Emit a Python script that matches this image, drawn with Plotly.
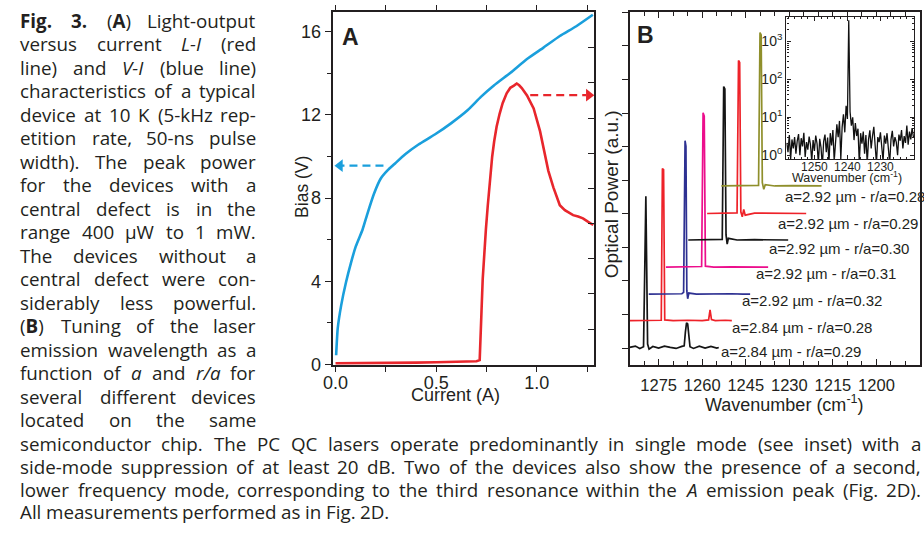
import re
import plotly.graph_objects as go

# ---------------- Panel A data ----------------
vi_current = [0.003, 0.011, 0.028, 0.052, 0.077, 0.101, 0.134, 0.159, 0.191, 0.224, 0.257, 0.297,
              0.346, 0.412, 0.493, 0.575, 0.657, 0.722, 0.788, 0.869, 0.951, 1.033, 1.114, 1.196, 1.278]
vi_bias = [0.44, 1.74, 2.84, 3.95, 4.9, 5.69, 6.48, 7.27, 8.21, 8.93, 9.32, 9.68,
           10.11, 10.58, 11.06, 11.61, 12.24, 12.87, 13.43, 14.03, 14.69, 15.24, 15.8, 16.27, 16.82]

li_current = [0.0, 0.1, 0.2, 0.3, 0.4, 0.5, 0.6, 0.7, 0.716, 0.72, 0.725, 0.731, 0.738, 0.747,
              0.756, 0.766, 0.778, 0.788, 0.80, 0.815, 0.83, 0.85, 0.868, 0.886, 0.9, 0.912, 0.925,
              0.951, 0.984, 1.016, 1.041, 1.057, 1.082, 1.114, 1.139, 1.16, 1.18, 1.205, 1.229, 1.255, 1.28]
li_power = [0.03, 0.03, 0.04, 0.04, 0.05, 0.06, 0.07, 0.09, 0.12, 0.6, 1.5, 2.42, 3.2, 3.85,
            4.5, 5.2, 5.9, 6.34, 6.75, 7.12, 7.42, 7.7, 7.86, 7.92, 7.98, 7.93, 7.85,
            7.64, 7.27, 6.62, 5.96, 5.5, 5.03, 4.52, 4.38, 4.32, 4.24, 4.2, 4.15, 4.05, 3.96]

bias_ticks = [0, 4, 8, 12, 16]
current_ticks = [0.0, 0.5, 1.0]
current_tick_text = ["0.0", "0.5", "1.0"]

# ---------------- Panel B data ----------------
spec_labels = ["a=2.84 µm - r/a=0.29", "a=2.84 µm - r/a=0.28", "a=2.92 µm - r/a=0.32",
               "a=2.92 µm - r/a=0.31", "a=2.92 µm - r/a=0.30", "a=2.92 µm - r/a=0.29",
               "a=2.92 µm - r/a=0.28"]
spec_offsets = [0.02, 0.82, 1.61, 2.41, 3.22, 4.01, 4.83]
spec_wn = [
    [1285, 1283, 1281.5, 1280.2, 1279.8, 1279.4, 1279.1, 1278.8, 1278.3, 1277, 1275, 1273, 1271,
     1269, 1267, 1266.2, 1265.8, 1265.4, 1265.0, 1264.6, 1264.2, 1263, 1261, 1259, 1257, 1255, 1254.3],
    [1285, 1280, 1276, 1274.1, 1273.7, 1273.3, 1272.9, 1270, 1265, 1260, 1257.8, 1257.3, 1256.8,
     1255.5, 1252, 1249.8],
    [1278.4, 1274, 1270, 1267, 1266.4, 1266.1, 1265.9, 1265.6, 1265.3, 1265.0, 1264.6, 1262, 1258,
     1254, 1250, 1246, 1243.5],
    [1272.5, 1268, 1263, 1260.2, 1259.7, 1259.3, 1258.9, 1256, 1250, 1244, 1237.3],
    [1264.8, 1260, 1256, 1253.1, 1252.6, 1252.2, 1251.8, 1251.4, 1251.0, 1248, 1242, 1236, 1230.4],
    [1258.3, 1254, 1250, 1248.0, 1247.5, 1247.1, 1246.7, 1246.2, 1245.7, 1245.2, 1242, 1236, 1230,
     1224.2],
    [1253.4, 1249, 1245, 1240.6, 1240.1, 1239.7, 1239.3, 1238.8, 1238.3, 1235, 1229, 1223, 1218.9],
]
spec_int = [
    [0, 0.04, -0.03, 0.02, 2.2, 4.5, 2.3, 0.1, -0.05, 0.03, -0.02, 0.04, 0.0,
     -0.03, 0.03, 0.05, 0.45, 0.73, 0.7, 0.3, 0.02, -0.03, 0.04, -0.02, 0.03, -0.02, 0.0],
    [0, 0.01, 0, 0.01, 4.53, 4.5, 0.02, 0, 0.01, 0, 0.02, 0.32, 0.03, 0, 0.01, 0],
    [0, 0.01, 0, 0.01, 0.05, 2.56, 4.57, 4.4, 0.1, -0.14, 0.03, 0, 0.01, 0, 0.01, 0, 0],
    [0, 0.01, 0, 0.02, 4.6, 4.5, 0.03, 0, 0.01, 0, 0],
    [0, 0.01, 0, 0.02, 4.57, 4.5, 0.15, -0.12, 0.05, 0, 0.01, 0, 0],
    [0, 0.01, 0, 0.02, 4.56, 4.5, 0.05, -0.1, 0.12, -0.05, 0.01, 0, 0.01, 0],
    [0, 0.01, 0, 0.02, 4.57, 4.5, 0.1, -0.1, 0.04, 0, 0.01, 0, 0],
]
wn_ticks = [1275, 1260, 1245, 1230, 1215, 1200]

# inset spectrum (device a=2.92 um, r/a=0.28), log scale
inset_wn = [1258.4, 1258.0, 1257.6, 1257.2, 1256.8, 1256.4, 1256.0, 1255.6, 1255.2, 1254.8,
            1254.4, 1254.0, 1253.6, 1253.2, 1252.8, 1252.4, 1252.0, 1251.6, 1251.2, 1250.8,
            1250.4, 1250.0, 1249.6, 1249.2, 1248.8, 1248.4, 1248.0, 1247.6, 1247.2, 1246.8,
            1246.4, 1246.0, 1245.6, 1245.2, 1244.8, 1244.4, 1244.0, 1243.6, 1243.2, 1242.8,
            1242.4, 1242.0, 1241.6, 1241.2, 1240.8, 1240.4, 1240.0, 1239.6, 1239.2, 1238.8,
            1238.4, 1238.0, 1237.6, 1237.2, 1236.8, 1236.4, 1236.0, 1235.6, 1235.2, 1234.8,
            1234.4, 1234.0, 1233.6, 1233.2, 1232.8, 1232.4, 1232.0, 1231.6, 1231.2, 1230.8,
            1230.4, 1230.0, 1229.6, 1229.2, 1228.8, 1228.4, 1228.0, 1227.6, 1227.2, 1226.8,
            1226.4, 1226.0, 1225.6, 1225.2, 1224.8, 1224.4, 1224.0, 1223.6, 1223.2, 1222.8,
            1222.4, 1222.0, 1221.6, 1221.2, 1220.8, 1220.4, 1220.0]
inset_int = [2.1, 1.2, 3.4, 0.8, 2.6, 1.5, 3.0, 1.1, 2.4, 3.6,
             1.0, 2.8, 1.7, 3.9, 0.9, 2.2, 1.4, 3.1, 1.9, 0.7,
             2.5, 1.3, 3.3, 2.0, 0.6, 2.7, 1.6, 0.5, 2.3, 3.5,
             1.2, 2.9, 0.6, 3.8, 1.8, 4.6, 0.7, 2.4, 6.5, 3.0,
             8.0, 0.8, 5.5, 12.0, 4.0, 20.0, 9.0, 3600.0, 14.0, 6.0,
             10.0, 2.5, 7.0, 3.2, 5.0, 0.6, 3.8, 2.0, 4.2, 1.1,
             3.4, 0.6, 2.6, 4.5, 1.5, 3.2, 5.6, 1.8, 0.6, 3.0,
             2.2, 4.0, 1.3, 0.7, 3.3, 2.0, 3.8, 1.2, 0.6, 2.6,
             4.4, 1.7, 3.0, 2.2, 1.0, 3.5, 2.4, 4.6, 1.5, 3.2,
             2.1, 6.0, 1.9, 4.2, 2.6, 5.2, 3.0]
inset_wn_ticks = [1250, 1240, 1230]
inset_log_ticks = [1, 10, 100, 1000]
inset_log_text = ["10<sup>0</sup>", "10<sup>1</sup>", "10<sup>2</sup>", "10<sup>3</sup>"]

# ---------------- caption text ----------------
caption_left = [
    "<b>Fig.</b> <b>3.</b> (<b>A</b>) Light-output",
    "versus current <i>L-I</i> (red",
    "line) and <i>V-I</i> (blue line)",
    "characteristics of a typical",
    "device at 10 K (5-kHz rep-",
    "etition rate, 50-ns pulse",
    "width). The peak power",
    "for the devices with a",
    "central defect is in the",
    "range 400 µW to 1 mW.",
    "The devices without a",
    "central defect were con-",
    "siderably less powerful.",
    "(<b>B</b>) Tuning of the laser",
    "emission wavelength as a",
    "function of <i>a</i> and <i>r/a</i> for",
    "several different devices",
    "located on the same",
]
caption_bottom = [
    "semiconductor chip. The PC QC lasers operate predominantly in single mode (see inset) with a",
    "side-mode suppression of at least 20 dB. Two of the devices also show the presence of a second,",
    "lower frequency mode, corresponding to the third resonance within the <i>A</i> emission peak (Fig. 2D).",
    "All measurements performed as in Fig. 2D.",
]

# ---------------- styles ----------------
W, H = 924, 533
INK = "#231f20"
BLUE = "#1a9fdc"
RED = "#e8262c"
spec_colors = ["#151515", "#ee2229", "#2e3192", "#ec0e8c", "#151515", "#ee2229", "#8f8f2b"]
AX_FONT = "Liberation Sans, Arial, sans-serif"
CAP_FONT = "Open Sans, Noto Sans, sans-serif"


def fx(p):
    return p / W


def fy(p):
    return 1 - p / H


fig = go.Figure()

# Panel A
fig.add_trace(go.Scatter(x=vi_current, y=vi_bias, mode="lines", xaxis="x", yaxis="y",
                         line=dict(color=BLUE, width=2.6, shape="spline", smoothing=0.5),
                         showlegend=False))
fig.add_trace(go.Scatter(x=li_current, y=li_power, mode="lines", xaxis="x", yaxis="y2",
                         line=dict(color=RED, width=2.6), showlegend=False))
# dashed arrows (shaft + head)
fig.add_trace(go.Scatter(x=[0.238, 0.03], y=[9.56, 9.56], mode="lines", xaxis="x", yaxis="y",
                         line=dict(color=BLUE, width=2.2, dash="8px,5px"), showlegend=False))
fig.add_trace(go.Scatter(x=[0.022], y=[9.56], mode="markers", xaxis="x", yaxis="y",
                         marker=dict(symbol="triangle-left", size=11, color=BLUE), showlegend=False,
                         cliponaxis=False))
fig.add_trace(go.Scatter(x=[0.967, 1.245], y=[7.65, 7.65], mode="lines", xaxis="x", yaxis="y2",
                         line=dict(color=RED, width=2.2, dash="8px,5px"), showlegend=False))
fig.add_trace(go.Scatter(x=[1.258], y=[7.65], mode="markers", xaxis="x", yaxis="y2",
                         marker=dict(symbol="triangle-right", size=11, color=RED), showlegend=False,
                         cliponaxis=False))

# Panel B
for i in range(len(spec_wn)):
    fig.add_trace(go.Scatter(x=spec_wn[i], y=[spec_offsets[i] + v for v in spec_int[i]],
                             mode="lines", xaxis="x3", yaxis="y3",
                             line=dict(color=spec_colors[i], width=1.7), showlegend=False))

# Inset
fig.add_trace(go.Scatter(x=inset_wn, y=inset_int, mode="lines", xaxis="x4", yaxis="y4",
                         line=dict(color="#111111", width=1.3), showlegend=False))

axline = dict(showline=True, linecolor=INK, linewidth=1.6, showgrid=False, zeroline=False,
              tickcolor=INK, tickwidth=1.4)

fig.update_layout(
    width=W, height=H, margin=dict(l=0, r=0, t=0, b=0),
    paper_bgcolor="white", plot_bgcolor="white", showlegend=False,
    xaxis=dict(domain=[fx(326.7), fx(591)], anchor="y", range=[-0.015, 1.285],
               tickmode="array", tickvals=current_ticks, ticktext=current_tick_text,
               ticks="outside", ticklen=5, mirror="allticks", tickangle=0, ticklabelstandoff=-5,
               minor=dict(tickvals=[0.25, 0.75, 1.25], ticks="outside", ticklen=5, tickcolor=INK),
               tickfont=dict(family=AX_FONT, size=18, color=INK), **axline),
    yaxis=dict(domain=[fy(371.5), fy(12.3)], anchor="x", range=[-0.04, 16.95],
               tickmode="array", tickvals=bias_ticks, ticks="outside", ticklen=6, mirror=True,
               minor=dict(tickvals=[2, 6, 10, 14], ticks="outside", ticklen=4, tickcolor=INK),
               tickfont=dict(family=AX_FONT, size=18, color=INK), **axline),
    yaxis2=dict(overlaying="y", side="right", anchor="x", range=[-0.025, 10.01],
                tickmode="linear", tick0=0, dtick=1, ticks="inside", ticklen=6,
                showticklabels=False, **axline),
    xaxis3=dict(domain=[fx(626.7), fx(920)], anchor="y3", range=[1285, 1185],
                tickmode="array", tickvals=wn_ticks, ticks="inside", ticklen=6, mirror="allticks",
                tickangle=0, ticklabelstandoff=4,
                minor=dict(tick0=1185, dtick=5, ticks="inside", ticklen=4, tickcolor=INK),
                tickfont=dict(family=AX_FONT, size=16.5, color=INK), **axline),
    yaxis3=dict(domain=[fy(371.5), fy(12.3)], anchor="x3", range=[-0.51, 10.01],
                tickmode="linear", tick0=0, dtick=1, ticks="outside", ticklen=6, mirror=True,
                showticklabels=False, **axline),
    xaxis4=dict(domain=[fx(785), fx(914)], anchor="y4", range=[1258.5, 1219.8],
                tickmode="array", tickvals=inset_wn_ticks, ticks="inside", ticklen=4,
                mirror="allticks", tickangle=0, ticklabelstandoff=-4,
                minor=dict(tick0=1220, dtick=2, ticks="inside", ticklen=2, tickcolor=INK),
                tickfont=dict(family=AX_FONT, size=12, color=INK),
                **{**axline, "linewidth": 1.3}),
    yaxis4=dict(domain=[fy(161.7), fy(17)], anchor="x4", type="log", range=[-0.1, 3.65],
                tickmode="array", tickvals=inset_log_ticks, ticktext=inset_log_text,
                ticks="inside", ticklen=4, mirror="allticks",
                minor=dict(tickvals=[2, 3, 4, 5, 6, 7, 8, 9, 20, 30, 40, 50, 60, 70, 80, 90,
                                     200, 300, 400, 500, 600, 700, 800, 900, 2000, 3000, 4000],
                           ticks="inside", ticklen=2, tickcolor=INK),
                tickfont=dict(family=AX_FONT, size=14, color=INK),
                **{**axline, "linewidth": 1.3}),
)

anns = []


def label(xp, yp, text, size, family=AX_FONT, angle=0, xa="center"):
    anns.append(dict(x=fx(xp), y=fy(yp), xref="paper", yref="paper", text=text,
                     xanchor=xa, yanchor="middle", textangle=angle, showarrow=False,
                     font=dict(family=family, size=size, color=INK)))


# panel letters
label(345, 37.5, "<b>A</b>", 23)
label(643, 36, "<b>B</b>", 23)

# axis titles
label(296, 190, "Bias (V)", 17.5, angle=-90)
label(451, 402, "Current (A)", 18)
label(608, 197.5, "Optical Power (a.u.)", 19, angle=-90)
label(783, 410, "Wavenumber (cm<sup>-1</sup>)", 18)
label(846.7, 180, "Wavenumber (cm<sup>-1</sup>)", 12.5)

# spectrum labels
label_pos = [(716.7, 358), (727.7, 333), (738.3, 306), (752.7, 278.7), (765.7, 252.3),
             (774.3, 227.7), (781.7, 200)]
for lab, (lx, ly) in zip(spec_labels, label_pos):
    label(lx, ly, lab, 15, xa="left")

# ---------------- justified caption ----------------
OS_W = {' ': 532, '!': 547, '(': 606, ')': 606, ',': 502, '-': 659, '.': 545, '/': 752, ':': 545,
        ';': 545, '=': 1171, 'A': 1296, 'B': 1327, 'C': 1292, 'D': 1493, 'E': 1139, 'F': 1057,
        'G': 1491, 'H': 1511, 'I': 571, 'J': 547, 'K': 1257, 'L': 1063, 'M': 1849, 'N': 1544,
        'O': 1595, 'P': 1233, 'Q': 1595, 'R': 1266, 'S': 1104, 'T': 1113, 'U': 1501, 'V': 1229,
        'W': 1884, 'X': 1149, 'Y': 1122, 'Z': 1135, 'a': 1139, 'b': 1255, 'c': 975, 'd': 1255,
        'e': 1149, 'f': 694, 'g': 1122, 'h': 1257, 'i': 518, 'j': 518, 'k': 1075, 'l': 518,
        'm': 1905, 'n': 1257, 'o': 1237, 'p': 1255, 'q': 1255, 'r': 836, 's': 977, 't': 723,
        'u': 1257, 'v': 1026, 'w': 1593, 'x': 1073, 'y': 1028, 'z': 977, 'µ': 1268}
CAP_SIZE = 18.8


def text_w(s, size):
    plain = re.sub(r"<[^>]+>", "", s)
    w = sum(OS_W.get(c, 1171) for c in plain)
    for b in re.findall(r"<b>(.*?)</b>", s):
        w += 0.08 * sum(OS_W.get(c, 1171) for c in b)
    return w / 2048 * size


def place_line(line, y_px, left, right, justify):
    words = line.split(" ")
    widths = [text_w(w, CAP_SIZE) for w in words]
    if justify and len(words) > 1:
        gap = (right - left - sum(widths)) / (len(words) - 1)
    else:
        gap = OS_W[' '] / 2048 * CAP_SIZE
    x = left
    for i, (w, wd) in enumerate(zip(words, widths)):
        if justify and len(words) > 1 and i == len(words) - 1:
            xa, xpos = "right", right
        else:
            xa, xpos = "left", x
        anns.append(dict(x=fx(xpos), y=fy(y_px), xref="paper", yref="paper", text=w,
                         xanchor=xa, yanchor="middle", showarrow=False, borderpad=0,
                         borderwidth=0, font=dict(family=CAP_FONT, size=CAP_SIZE, color=INK)))
        x += wd + gap


LINE0, LSTEP = 20.9, 23.92
for k, line in enumerate(caption_left):
    place_line(line, LINE0 + k * LSTEP, 11.5, 249.8, True)
bottom_rows = [451.3, 475.0, 498.6, 521.2]
for k, line in enumerate(caption_bottom):
    place_line(line, bottom_rows[k], 11.5, 921, k < len(caption_bottom) - 1)

fig.update_layout(annotations=anns)
fig.write_html("out.html")
